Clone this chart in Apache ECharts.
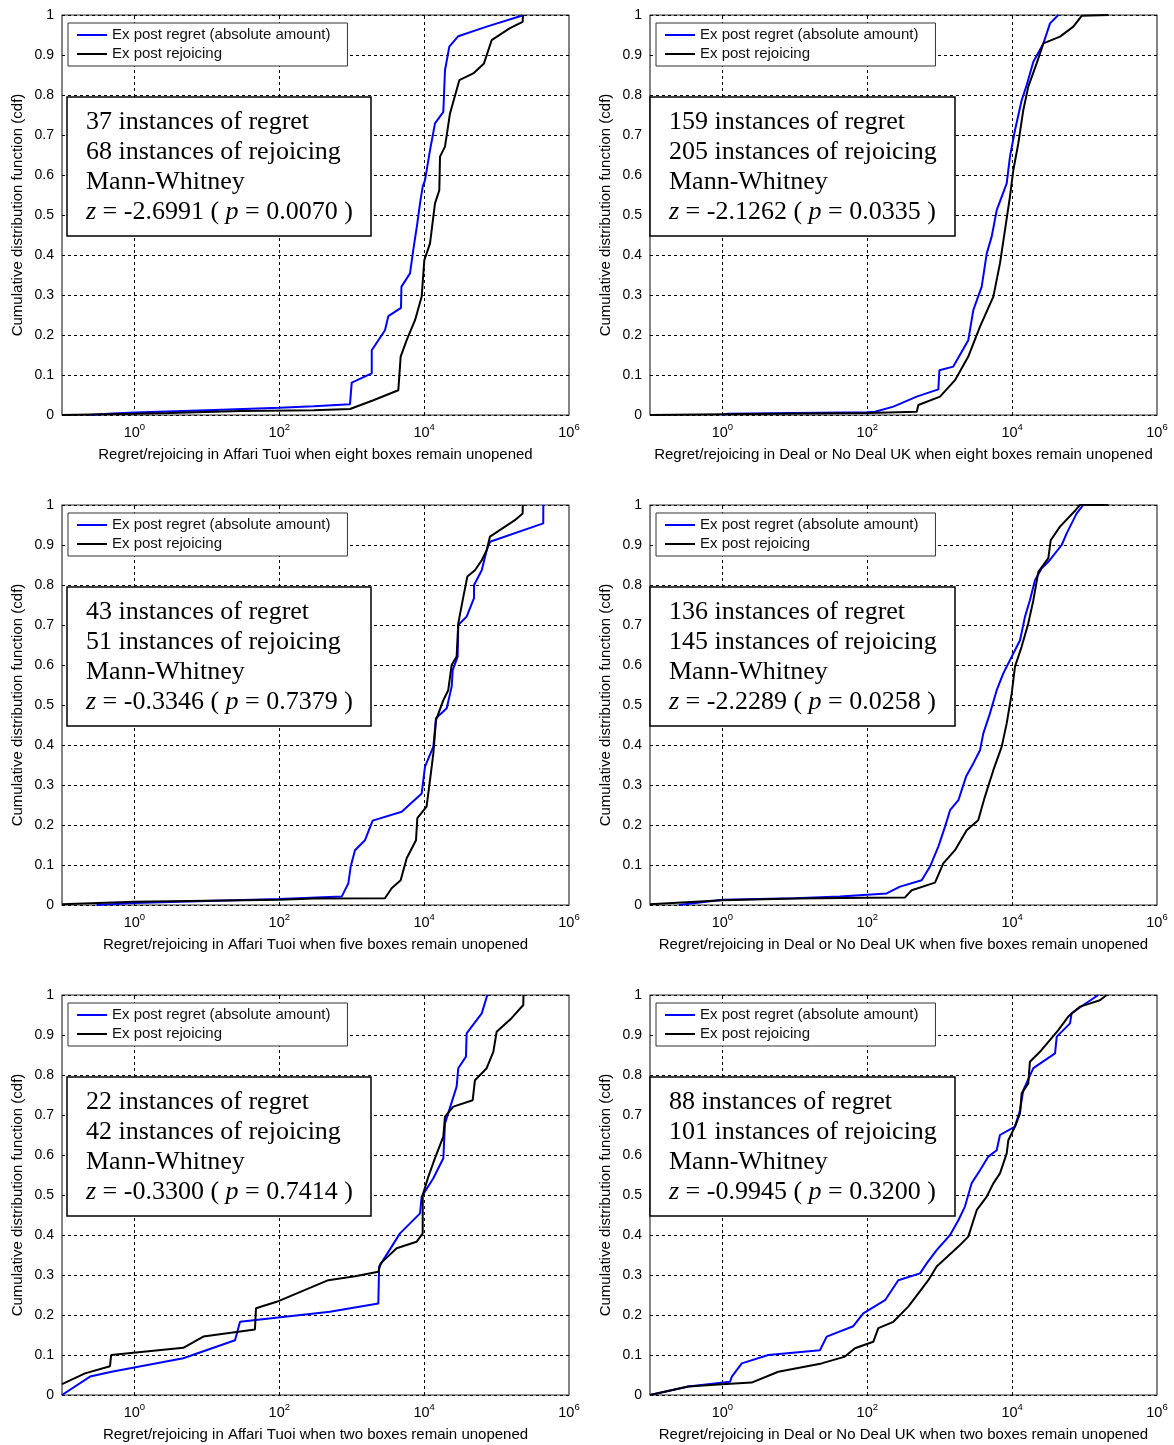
<!DOCTYPE html>
<html>
<head>
<meta charset="utf-8">
<script src="https://cdn.jsdelivr.net/npm/echarts@6/dist/echarts.min.js"></script>
<style>
html,body{margin:0;padding:0;background:#fff;}
#chart{width:1174px;height:1445px;}
</style>
</head>
<body>
<div id="chart"></div>
<script>
// ---------- data ----------
const seriesNames = ['Ex post regret (absolute amount)', 'Ex post rejoicing'];
const yAxisName = 'Cumulative distribution function (cdf)';
const xAxisNames = [
  'Regret/rejoicing in Affari Tuoi when eight boxes remain unopened',
  'Regret/rejoicing in Deal or No Deal UK when eight boxes remain unopened',
  'Regret/rejoicing in Affari Tuoi when five boxes remain unopened',
  'Regret/rejoicing in Deal or No Deal UK when five boxes remain unopened',
  'Regret/rejoicing in Affari Tuoi when two boxes remain unopened',
  'Regret/rejoicing in Deal or No Deal UK when two boxes remain unopened'
];
const regretCounts = [37, 159, 43, 136, 22, 88];
const rejoicingCounts = [68, 205, 51, 145, 42, 101];
const zValues = ['-2.6991', '-2.1262', '-0.3346', '-2.2289', '-0.3300', '-0.9945'];
const pValues = ['0.0070', '0.0335', '0.7379', '0.0258', '0.7414', '0.3200'];
const gridXTicks = [1, 100, 10000];

// [value, cdf] pairs
const regret1 = [[0.24,0],[0.5,0.004],[1,0.006],[10,0.012],[100,0.018],[300,0.022],[947,0.027],[1000,0.081],[1890,0.104],[1890,0.162],[2880,0.212],[3200,0.247],[4790,0.268],[4860,0.321],[6380,0.354],[7080,0.413],[8050,0.479],[8770,0.529],[9550,0.571],[10280,0.587],[12050,0.662],[14120,0.729],[18400,0.758],[19400,0.862],[22250,0.921],[29600,0.947],[73000,0.971],[222000,0.998],[225000,1]];
const rejoice1 = [[0.1,0],[1,0.003],[3,0.005],[30,0.01],[300,0.012],[947,0.015],[1990,0.037],[4400,0.062],[4740,0.146],[5740,0.187],[7480,0.237],[9250,0.296],[10050,0.387],[12050,0.429],[14120,0.529],[16200,0.562],[16560,0.646],[19400,0.671],[22750,0.754],[30600,0.837],[47700,0.854],[67000,0.879],[85500,0.937],[153000,0.967],[229000,0.983],[232000,1]];

const regret2 = [[1,0],[1.2,0.003],[10,0.005],[100,0.007],[128,0.008],[229,0.021],[481,0.046],[957,0.064],[990,0.112],[1540,0.121],[2480,0.187],[2910,0.262],[3800,0.321],[4460,0.404],[5220,0.446],[6120,0.512],[8410,0.579],[9330,0.646],[10940,0.712],[13540,0.787],[15880,0.825],[19630,0.883],[27000,0.929],[33350,0.979],[43400,1]];
const rejoice2 = [[0.1,0],[1,0.002],[100,0.005],[481,0.008],[507,0.025],[1010,0.046],[1625,0.087],[2480,0.146],[3600,0.221],[5500,0.296],[6790,0.379],[7960,0.462],[9330,0.546],[10380,0.612],[12160,0.679],[14250,0.762],[16700,0.821],[21800,0.879],[27000,0.929],[45800,0.946],[70000,0.971],[91200,0.998],[91300,1],[213000,1]];

const regret3 = [[0.3,0],[1,0.005],[10,0.01],[100,0.015],[727,0.021],[898,0.054],[968,0.096],[1110,0.137],[1525,0.162],[1945,0.211],[4900,0.233],[9250,0.279],[10280,0.346],[13400,0.396],[14580,0.467],[20500,0.492],[24000,0.546],[24800,0.587],[29000,0.621],[29600,0.70],[38600,0.721],[48800,0.767],[48900,0.80],[62400,0.837],[73000,0.887],[81100,0.908],[441000,0.954],[442000,1]];
const rejoice3 = [[0.1,0.002],[1,0.008],[100,0.013],[300,0.016],[2880,0.017],[3560,0.042],[4740,0.062],[5740,0.117],[7720,0.162],[8050,0.217],[10800,0.246],[12050,0.312],[13400,0.379],[14580,0.462],[18400,0.512],[21500,0.537],[24000,0.60],[28100,0.621],[29600,0.704],[34800,0.771],[39500,0.821],[50300,0.837],[62400,0.862],[73000,0.887],[81100,0.921],[179000,0.962],[229000,0.979],[230000,1]];

const regret4 = [[0.25,0],[1,0.013],[10,0.017],[42,0.021],[185,0.029],[283,0.046],[564,0.062],[735,0.096],[957,0.146],[1185,0.196],[1390,0.237],[1810,0.262],[2310,0.321],[2910,0.354],[3600,0.387],[4000,0.429],[4940,0.479],[6120,0.537],[7550,0.579],[9870,0.621],[12850,0.662],[15050,0.721],[17600,0.762],[20650,0.812],[25600,0.842],[31600,0.858],[48300,0.90],[56600,0.929],[77800,0.979],[96200,1]];
const rejoice4 = [[0.1,0.002],[1,0.012],[10,0.016],[100,0.018],[332,0.019],[410,0.037],[861,0.056],[1120,0.104],[1625,0.137],[2355,0.187],[3400,0.212],[4210,0.271],[5500,0.337],[7180,0.396],[8410,0.454],[9870,0.529],[10940,0.596],[13540,0.646],[16700,0.704],[19630,0.762],[23000,0.833],[31600,0.867],[34100,0.912],[45800,0.946],[75000,0.987],[86700,1],[213000,1]];

const regret5 = [[0.1,0],[0.244,0.046],[0.485,0.058],[4.73,0.092],[24.5,0.137],[28.7,0.183],[500,0.208],[2330,0.229],[2390,0.321],[4640,0.404],[8770,0.454],[9250,0.496],[13400,0.542],[18400,0.592],[19400,0.679],[28100,0.771],[29600,0.817],[37800,0.846],[38600,0.904],[62400,0.954],[74500,1]];
const rejoice5 = [[0.1,0.027],[0.208,0.054],[0.46,0.072],[0.477,0.10],[4.73,0.118],[8.93,0.146],[46.1,0.164],[47.7,0.217],[92,0.233],[475,0.287],[1110,0.297],[2330,0.308],[2510,0.329],[4170,0.367],[7850,0.383],[9550,0.404],[9560,0.50],[11430,0.546],[14120,0.592],[18400,0.646],[19400,0.696],[25300,0.721],[46800,0.737],[50300,0.787],[73000,0.817],[90200,0.858],[100200,0.908],[161000,0.942],[234000,0.975],[235000,1]];

const regret6 = [[0.1,0],[0.338,0.021],[1.27,0.033],[1.35,0.046],[1.85,0.079],[4.3,0.10],[22.2,0.112],[27.5,0.146],[64,0.172],[88,0.204],[176,0.237],[268,0.287],[535,0.304],[661,0.329],[908,0.362],[1390,0.40],[1810,0.437],[2230,0.471],[2750,0.529],[3600,0.562],[4690,0.596],[6120,0.612],[6790,0.65],[10940,0.671],[12850,0.712],[14250,0.762],[19630,0.817],[39100,0.854],[41300,0.896],[63000,0.929],[66100,0.954],[96200,0.975],[155000,1]];
const rejoice6 = [[0.1,0],[0.338,0.021],[0.99,0.027],[2.53,0.031],[5.9,0.058],[23.4,0.079],[49.2,0.096],[67.6,0.117],[121,0.133],[142,0.167],[229,0.183],[368,0.221],[507,0.254],[697,0.287],[908,0.321],[1810,0.371],[2480,0.396],[3240,0.462],[4460,0.496],[5500,0.529],[6790,0.554],[8410,0.604],[8860,0.637],[10940,0.671],[12850,0.704],[13540,0.754],[16700,0.779],[17600,0.833],[24200,0.858],[43400,0.912],[59500,0.946],[86700,0.971],[163000,0.987],[202000,1]];

const regretData = [regret1, regret2, regret3, regret4, regret5, regret6];
const rejoiceData = [rejoice1, rejoice2, rejoice3, rejoice4, rejoice5, rejoice6];

// ---------- layout ----------
const SANS = '"Liberation Sans", Arial, sans-serif';
const SERIF = '"Liberation Serif", "Times New Roman", serif';
const colLeft = [62, 650];
const rowTop = [15, 505, 995];
const plotW = 507, plotH = 400;

const grids = [], xAxes = [], yAxes = [], series = [], legends = [], titles = [];

function xTickFormatter(v) {
  const e = Math.round(Math.log10(v));
  if (e < 0 || e % 2 !== 0) return '';
  return '{b|10}{s|' + e + '}';
}

for (let i = 0; i < 6; i++) {
  const col = i % 2, row = Math.floor(i / 2);
  const left = colLeft[col], top = rowTop[row];
  grids.push({
    left: left, top: top, width: plotW, height: plotH,
    show: true, borderColor: '#333', borderWidth: 1.2, backgroundColor: '#fff'
  });
  xAxes.push({
    type: 'log', logBase: 10, min: 0.1, max: 1e6, gridIndex: i,
    axisLine: {show: false}, axisTick: {show: false}, splitLine: {show: false},
    axisLabel: {
      formatter: xTickFormatter, margin: 7,
      rich: {
        b: {fontFamily: SANS, fontSize: 14.5, color: '#000', lineHeight: 18, verticalAlign: 'bottom'},
        s: {fontFamily: SANS, fontSize: 9.5, color: '#000', lineHeight: 9, verticalAlign: 'top'}
      }
    },
    name: xAxisNames[i], nameLocation: 'middle', nameGap: 32,
    nameTextStyle: {fontFamily: SANS, fontSize: 15, color: '#000'}
  });
  yAxes.push({
    type: 'value', min: 0, max: 1, interval: 0.1, gridIndex: i,
    axisLine: {show: false}, axisTick: {show: false},
    axisLabel: {fontFamily: SANS, fontSize: 14, color: '#000', margin: 8},
    splitLine: {show: true, lineStyle: {color: '#000', width: 1, type: [3, 3]}},
    name: yAxisName, nameLocation: 'middle', nameGap: 37, nameRotate: 90,
    nameTextStyle: {fontFamily: SANS, fontSize: 15, color: '#000'}
  });
  // vertical grid lines at 10^0, 10^2, 10^4
  series.push({
    type: 'line', name: 'grid' + i, xAxisIndex: i, yAxisIndex: i, data: [], z: 1,
    silent: true,
    markLine: {
      silent: true, symbol: ['none', 'none'], animation: false, z: 1,
      label: {show: false},
      lineStyle: {color: '#000', width: 1, type: [3, 3]},
      emphasis: {disabled: true},
      data: gridXTicks.map(v => ({xAxis: v}))
    }
  });
  series.push({
    type: 'line', name: seriesNames[0], xAxisIndex: i, yAxisIndex: i,
    data: regretData[i], showSymbol: false, symbol: 'none', z: 3,
    color: '#0000ff', lineStyle: {color: '#0000ff', width: 2}
  });
  series.push({
    type: 'line', name: seriesNames[1], xAxisIndex: i, yAxisIndex: i,
    data: rejoiceData[i], showSymbol: false, symbol: 'none', z: 3,
    color: '#000000', lineStyle: {color: '#000000', width: 2}
  });
  legends.push({
    data: seriesNames, orient: 'vertical', z: 6,
    left: left + 6, top: top + 8,
    icon: 'rect', itemWidth: 30, itemHeight: 2, itemGap: 1,
    padding: [3, 17, 3, 9],
    borderColor: '#333', borderWidth: 1, backgroundColor: '#fff',
    selectedMode: false,
    textStyle: {fontFamily: SANS, fontSize: 15, color: '#111', lineHeight: 18}
  });
  titles.push({
    left: col === 0 ? left + 5 : left, top: top + 80, z: 7,
    text: '{n|' + regretCounts[i] + ' instances of regret}\n' +
          '{n|' + rejoicingCounts[i] + ' instances of rejoicing}\n' +
          '{n|Mann-Whitney}\n' +
          '{i|z}{n| = ' + zValues[i] + ' ( }{i|p}{n| = ' + pValues[i] + ' )}',
    padding: [12, 18, 11, 19],
    borderColor: '#000', borderWidth: 1.5, backgroundColor: '#fff',
    textStyle: {
      fontWeight: 'normal',
      rich: {
        n: {fontFamily: SERIF, fontSize: 26, fontWeight: 'normal', color: '#000', lineHeight: 30},
        i: {fontFamily: SERIF, fontSize: 26, fontWeight: 'normal', color: '#000', lineHeight: 30, fontStyle: 'italic'}
      }
    }
  });
}

const chart = echarts.init(document.getElementById('chart'), null, {renderer: 'canvas'});
chart.setOption({
  animation: false,
  backgroundColor: '#fff',
  title: titles,
  legend: legends,
  grid: grids,
  xAxis: xAxes,
  yAxis: yAxes,
  series: series
});
</script>
</body>
</html>
